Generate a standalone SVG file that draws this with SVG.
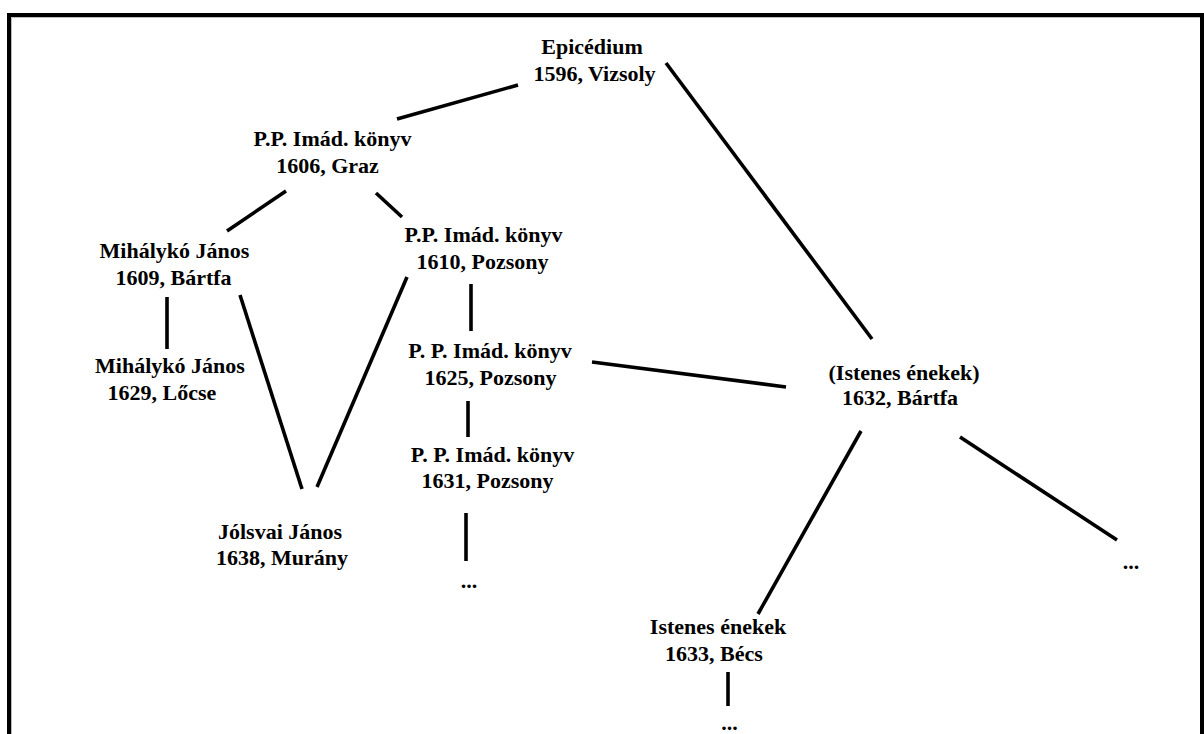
<svg xmlns="http://www.w3.org/2000/svg" width="1204" height="734" viewBox="0 0 1204 734">
<style>
text{font-family:"Liberation Serif","Times New Roman",serif;font-weight:bold;font-size:22px;fill:#000;text-anchor:middle}
.c line{stroke:#000;stroke-width:3.6;stroke-linecap:butt}
</style>
<rect x="0" y="0" width="1204" height="734" fill="#fff"/>
<g id="frame">
<path d="M9,740 V15 H1202 V740" fill="none" stroke="#000" stroke-width="4"/>
<path d="M11.5,740 V17.5 H1200" fill="none" stroke="#bbb" stroke-width="1"/>
</g>
<g class="c" id="connectors">
<line x1="397" y1="119" x2="518" y2="85"/>
<line x1="666" y1="63" x2="872" y2="339"/>
<line x1="286" y1="191" x2="227" y2="231"/>
<line x1="376" y1="193" x2="402" y2="217"/>
<line x1="167" y1="297" x2="167" y2="349"/>
<line x1="240" y1="295" x2="302" y2="489"/>
<line x1="407" y1="277" x2="317" y2="487"/>
<line x1="471" y1="284" x2="471" y2="331"/>
<line x1="468" y1="401" x2="468" y2="437"/>
<line x1="466" y1="513" x2="466" y2="561"/>
<line x1="592" y1="362" x2="786" y2="387"/>
<line x1="861" y1="431" x2="758" y2="614"/>
<line x1="960" y1="437" x2="1117" y2="540"/>
<line x1="728" y1="672" x2="728" y2="706"/>
</g>
<g id="n-epicedium"><text x="592" y="54">Epicédium</text><text x="594.5" y="81">1596, Vizsoly</text></g>
<g id="n-pp1606"><text x="332.5" y="146">P.P. Imád. könyv</text><text x="327.5" y="173">1606, Graz</text></g>
<g id="n-pp1610"><text x="483.5" y="242">P.P. Imád. könyv</text><text x="482.5" y="269">1610, Pozsony</text></g>
<g id="n-mj1609"><text x="174.5" y="258">Mihálykó János</text><text x="173.5" y="285">1609, Bártfa</text></g>
<g id="n-mj1629"><text x="170" y="373">Mihálykó János</text><text x="162" y="400">1629, Lőcse</text></g>
<g id="n-jj1638"><text x="280" y="539">Jólsvai János</text><text x="282" y="565">1638, Murány</text></g>
<g id="n-pp1625"><text x="490" y="358">P. P. Imád. könyv</text><text x="490.5" y="385">1625, Pozsony</text></g>
<g id="n-pp1631"><text x="492.5" y="462">P. P. Imád. könyv</text><text x="487.5" y="488">1631, Pozsony</text></g>
<g id="n-dots1"><text x="469" y="588">...</text></g>
<g id="n-ie1632"><text x="904" y="380">(Istenes énekek)</text><text x="900" y="405">1632, Bártfa</text></g>
<g id="n-dots2"><text x="1131" y="569">...</text></g>
<g id="n-ie1633"><text x="718" y="634">Istenes énekek</text><text x="714" y="661">1633, Bécs</text></g>
<g id="n-dots3"><text x="729.5" y="730">...</text></g>
</svg>
